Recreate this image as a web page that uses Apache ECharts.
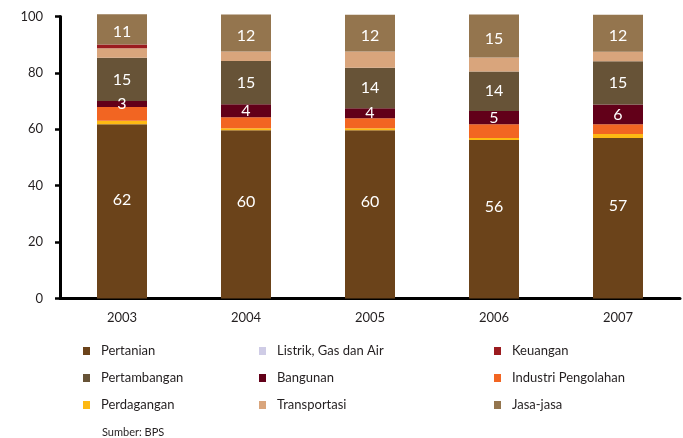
<!DOCTYPE html>
<html>
<head>
<meta charset="utf-8">
<script src="https://cdn.jsdelivr.net/npm/echarts@6/dist/echarts.min.js"></script>
<style>
  html, body { margin: 0; padding: 0; background: #fff; }
  #main { width: 683px; height: 438px; }
</style>
</head>
<body>
<div id="main"></div>
<script>
// tahun
var years = ['2003', '2004', '2005', '2006', '2007'];

// nilai (persen)
var pertanian    = [61.8, 59.7, 59.7, 56.2, 56.9];
var perdagangan  = [1.2, 0.7, 0.7, 0.7, 1.4];
var listrik      = [0, 0, 0, 0, 0];
var industri     = [4.9, 3.9, 3.5, 4.9, 3.5];
var bangunan     = [2.1, 4.6, 3.6, 4.7, 7.0];
var pertambangan = [15.4, 15.3, 14.3, 14.0, 15.3];
var transportasi = [3.3, 3.4, 5.8, 5.0, 3.4];
var keuangan     = [1.4, 0, 0, 0, 0];
var jasa         = [10.7, 13.1, 13.0, 15.2, 13.1];

// angka yang tertulis di batang
var lblPertanian    = [62, 60, 60, 56, 57];
var lblBangunan     = [3, 4, 4, 5, 6];
var lblPertambangan = [15, 15, 14, 14, 15];
var lblJasa         = [11, 12, 12, 15, 12];

var font = 'Lato, "Open Sans", sans-serif';
var textColor = '#231f20';

function makeSeries(name, data, color, labels, dy) {
    var s = {
        name: name,
        type: 'bar',
        stack: 'total',
        barWidth: 50,
        clip: false,
        data: data,
        itemStyle: { color: color },
        emphasis: { disabled: true }
    };
    if (labels) {
        s.label = {
            show: true,
            position: 'inside',
            offset: [0, dy || 0],
            color: '#fff',
            fontFamily: font,
            fontSize: 16,
            formatter: function (p) { return labels[p.dataIndex]; }
        };
    }
    return s;
}

var myChart = echarts.init(document.getElementById('main'));

function colLegend(left, names) {
    return {
        orient: 'vertical',
        left: left,
        top: 344,
        padding: 0,
        itemWidth: 7,
        itemHeight: 8,
        itemGap: 13,
        icon: 'rect',
        selectedMode: false,
        data: names,
        textStyle: {
            fontFamily: font,
            fontSize: 13,
            lineHeight: 14,
            color: textColor,
            padding: [0, 0, 0, 6]
        }
    };
}

var option = {
    animation: false,
    grid: { left: 60, right: 3, top: 16.5, bottom: 139.5 },
    legend: [
        colLegend(83, ['Pertanian', 'Pertambangan', 'Perdagangan']),
        colLegend(259, ['Listrik, Gas dan Air', 'Bangunan', 'Transportasi']),
        colLegend(494, ['Keuangan', 'Industri Pengolahan', 'Jasa-jasa'])
    ],
    xAxis: {
        type: 'category',
        data: years,
        axisLine: { lineStyle: { color: '#000', width: 3 } },
        axisTick: { length: 9, lineStyle: { color: '#000', width: 2.5 } },
        axisLabel: { margin: 13, color: textColor, fontFamily: font, fontSize: 13 }
    },
    yAxis: {
        type: 'value',
        min: 0,
        max: 100,
        interval: 20,
        splitLine: { show: false },
        axisLine: { show: true, lineStyle: { color: '#000', width: 3 } },
        axisTick: { show: true, length: 5, lineStyle: { color: '#000', width: 2.5 } },
        axisLabel: { margin: 17, color: textColor, fontFamily: font, fontSize: 13 }
    },
    graphic: [{
        type: 'text',
        left: 102,
        top: 427,
        style: { text: 'Sumber: BPS', fill: textColor, font: '11px ' + font }
    }],
    series: [
        makeSeries('Pertanian', pertanian, '#6b431a', lblPertanian, -12),
        makeSeries('Perdagangan', perdagangan, '#fdb913'),
        makeSeries('Listrik, Gas dan Air', listrik, '#cfcce6'),
        makeSeries('Industri Pengolahan', industri, '#f26522'),
        makeSeries('Bangunan', bangunan, '#620019', lblBangunan),
        makeSeries('Pertambangan', pertambangan, '#675337', lblPertambangan),
        makeSeries('Transportasi', transportasi, '#d9a57c'),
        makeSeries('Keuangan', keuangan, '#9b1b1f'),
        makeSeries('Jasa-jasa', jasa, '#94754e', lblJasa, 3)
    ]
};
myChart.setOption(option);
</script>
</body>
</html>
